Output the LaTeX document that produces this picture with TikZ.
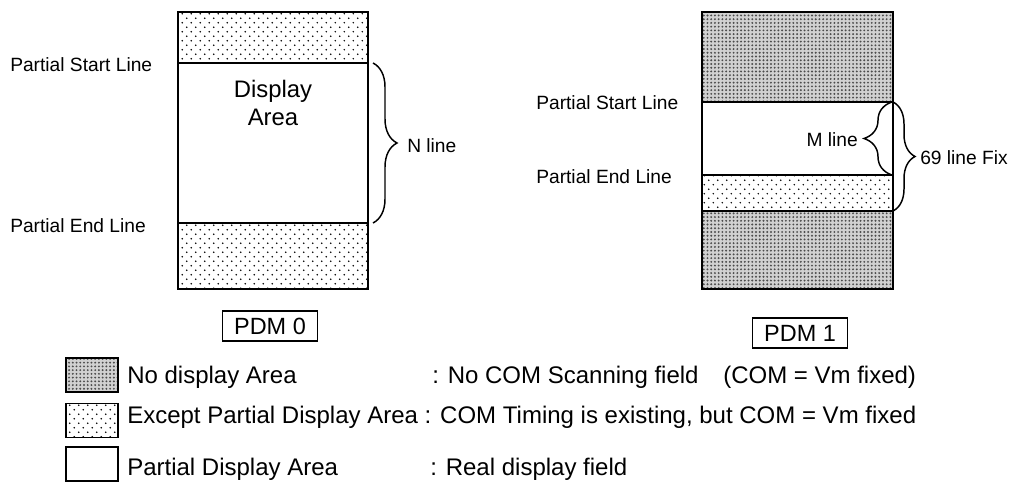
\documentclass[tikz,border=0pt]{standalone}
\usepackage{fontspec}
\setmainfont{Liberation Sans}
\usepackage{tikz}
\usetikzlibrary{patterns,decorations.pathreplacing,positioning}
\pgfdeclarepatternformonly{sparsedots}{\pgfpoint{-1pt}{-1pt}}{\pgfpoint{8pt}{8pt}}{\pgfpoint{6.75pt}{6.75pt}}{%
  \pgfpathcircle{\pgfpoint{1.7pt}{1.7pt}}{0.6pt}%
  \pgfpathcircle{\pgfpoint{5.05pt}{5.05pt}}{0.6pt}%
  \pgfusepath{fill}}
\pgfdeclarepatternformonly{densedots}{\pgfpoint{-1pt}{-1pt}}{\pgfpoint{4pt}{4pt}}{\pgfpoint{2.8pt}{2.8pt}}{%
  \pgfpathcircle{\pgfpoint{1.4pt}{1.4pt}}{0.8pt}%
  \pgfusepath{fill}}
\tikzset{
  panel/.style={draw, line width=1.5pt},
  nodisp/.style={pattern=densedots, pattern color=black!70, preaction={fill=black!18}},
  exceptdisp/.style={pattern=sparsedots, pattern color=black},
  lbl/.style={font=\fontsize{14.4}{17}\selectfont, inner sep=0pt},
  bigtxt/.style={font=\fontsize{17.9}{20.3}\selectfont, inner sep=0pt, align=center},
  legtxt/.style={font=\fontsize{18}{21}\selectfont, inner sep=0pt, anchor=west},
  pdmbox/.style={draw, line width=1.1pt, minimum width=71pt, minimum height=22.5pt,
    inner sep=0pt, font=\fontsize{17.6}{20}\selectfont},
  swatch/.style={draw, line width=1.1pt, minimum width=39pt, minimum height=25.5pt, inner sep=0pt},
  bracket/.style={decorate, decoration={brace, amplitude=#1}, line width=1.1pt}
}

\begin{document}
\begin{tikzpicture}[x=0.75pt, y=0.75pt]
\useasboundingbox (0,0) rectangle (1012,-484);
% PDM 0
\path[exceptdisp] (178,-12) rectangle (368,-63);
\path[exceptdisp] (178,-223) rectangle (368,-289);
\draw[panel] (178,-12) rectangle (368,-289);
\draw[panel] (178,-63) -- (368,-63) (178,-223) -- (368,-223);
\node[bigtxt] (disp) at (273,-103) {Display\\Area};
\node[lbl, anchor=west] (start0) at (10,-65) {Partial Start Line};
\node[lbl, anchor=west] (end0) at (10,-226) {Partial End Line};
\coordinate (ntop) at (373,-63);
\coordinate (nbot) at (373,-223);
\draw[bracket=18pt] (ntop) -- (nbot);
\node[lbl, anchor=west] (nline) at (407,-146) {N line};
\node[pdmbox] (pdm0) at (270,-326) {PDM 0};
% PDM 1
\path[nodisp] (702,-12) rectangle (893,-102);
\path[exceptdisp] (702,-175) rectangle (893,-211);
\path[nodisp] (702,-211) rectangle (893,-289);
\draw[panel] (702,-12) rectangle (893,-289);
\draw[panel] (702,-102) -- (893,-102) (702,-175) -- (893,-175) (702,-211) -- (893,-211);
\node[lbl, anchor=west] (start1) at (536,-103) {Partial Start Line};
\node[lbl, anchor=west] (end1) at (536,-177) {Partial End Line};
\coordinate (mtop) at (892,-102);
\coordinate (mbot) at (892,-175);
\draw[bracket=21pt] (mbot) -- (mtop);
\node[lbl, anchor=east] (mline) at (858,-140) {M line};
\coordinate (ftop) at (893,-102);
\coordinate (fbot) at (893,-211);
\draw[bracket=16.5pt] (ftop) -- (fbot);
\node[lbl, anchor=west] (fix) at (920,-158) {69 line Fix};
\node[pdmbox] (pdm1) at (800,-333) {PDM 1};
% legend
\node[swatch, nodisp] (sw1) at (92,-375) {};
\node[swatch, exceptdisp] (sw2) at (92,-420.5) {};
\node[swatch] (sw3) at (92,-464) {};
\node[legtxt] (leg1) at (127,-377) {No display Area};
\node[legtxt] (desc1) at (432,-377) {: No COM Scanning field};
\node[legtxt] (com1) at (723,-377) {(COM = Vm fixed)};
\node[legtxt] (leg2) at (127,-417) {Except Partial Display Area : COM Timing is existing, but COM = Vm fixed};
\node[legtxt] (leg3) at (127,-469) {Partial Display Area};
\node[legtxt] (desc3) at (430,-469) {: Real display field};
\end{tikzpicture}
\end{document}
